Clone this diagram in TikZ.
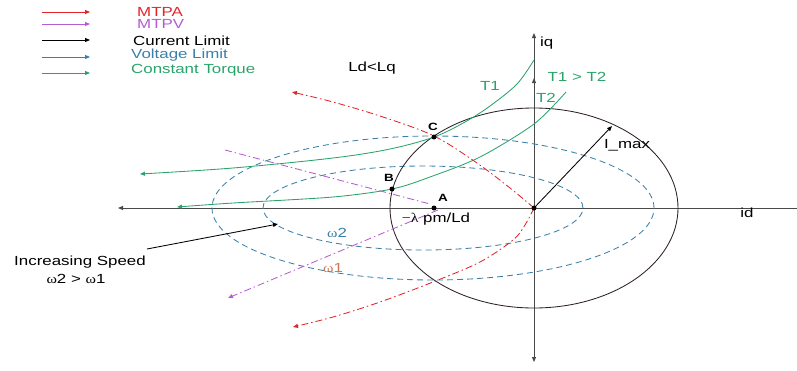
\documentclass[tikz,border=0pt]{standalone}
\usepackage{fontspec}
\setmainfont{Liberation Sans}[FakeStretch=1.28]
\newfontfamily\grk{Liberation Serif}[FakeStretch=1.2]
\usetikzlibrary{arrows.meta}
\definecolor{mtpa}{HTML}{E0262B}
\definecolor{mtpv}{HTML}{B45CD0}
\definecolor{volt}{HTML}{3A80A8}
\definecolor{torq}{HTML}{2AA36A}
\definecolor{curl}{HTML}{2E2228}
\definecolor{axisc}{HTML}{4A4A4A}
\definecolor{omone}{HTML}{C87A5A}
\begin{document}
\begin{tikzpicture}[x=1pt,y=-1pt,font=\fontsize{13.2}{15}\selectfont,
  tip/.style={-{Triangle[length=5pt,width=4pt]}},
  lbl/.style={inner sep=0pt},
  ptlbl/.style={inner sep=0pt,font=\fontsize{10.5}{12}\selectfont\bfseries},
  dashdot/.style={dash pattern=on 7pt off 3pt on 1.5pt off 3pt},
  vdash/.style={volt,dash pattern=on 6pt off 4pt,line width=0.85pt},
  dot/.style={circle,fill=black,inner sep=0pt,minimum size=5pt},
  thinline/.style={line width=0.85pt}]
\useasboundingbox (0,0) rectangle (797,370);

% legend
\foreach \yy/\cc/\nn in {12/mtpa/a,24/mtpv/b,40/black/c,57/volt/d,73/torq/e}{
  \coordinate (ls\nn) at (42,\yy);
  \coordinate (le\nn) at (90,\yy);
  \draw[\cc,thinline,tip] (ls\nn) -- (le\nn);
}
\node[lbl,anchor=west,text=mtpa] (tA) at (137,12) {MTPA};
\node[lbl,anchor=west,text=mtpv] (tB) at (137,24) {MTPV};
\node[lbl,anchor=west,text=black] (tC) at (133,41) {Current Limit};
\node[lbl,anchor=west,text=volt] (tD) at (131,55) {Voltage Limit};
\node[lbl,anchor=west,text=torq] (tE) at (131,70) {Constant Torque};

% axes
\coordinate (xr) at (797,208);
\coordinate (xl) at (118,208);
\coordinate (yt) at (534,33);
\coordinate (yb) at (534,362);
\coordinate (ym1) at (534,86);
\coordinate (ym2) at (534,78);
\draw[axisc,thinline,tip] (xr) -- (xl);
\draw[axisc,thinline,{Triangle[length=5pt,width=4pt]}-{Triangle[length=5pt,width=4pt]}] (yt) -- (yb);
\draw[axisc,thinline,tip] (ym1) -- (ym2);

% voltage limit ellipses
\draw[vdash] (433,208) ellipse [x radius=221pt, y radius=72pt];
\draw[vdash] (423,208) ellipse [x radius=160pt, y radius=42pt];

% current limit circle
\draw[curl,thinline] (534,208) ellipse [x radius=144pt, y radius=100pt];

% constant torque curves
\draw[torq,thinline,tip] plot[smooth,tension=0.55] coordinates
  {(534,60) (517,84) (490,106) (465,122) (434,137) (390,149) (333,158) (233,168) (140,174)};
\draw[torq,thinline,tip] plot[smooth,tension=0.5] coordinates
  {(566,92) (534,124) (480,157) (430,177) (392,189) (333,197) (233,203) (177,207)};

% MTPA
\draw[mtpa,thinline,dashdot,tip] plot[smooth,tension=0.55] coordinates
  {(534,208) (510,188) (477,163) (434,136) (383,117) (333,102) (292,92)};
\draw[mtpa,thinline,dashdot,tip] plot[smooth,tension=0.55] coordinates
  {(534,208) (525,225) (513,240) (480,262) (433,282) (380,302) (333,317) (293,327)};

% MTPV
\coordinate (pv1) at (225,150);
\coordinate (pv2) at (430,204);
\coordinate (pv3) at (438,210);
\coordinate (pv4) at (228,298);
\draw[mtpv,thinline,dashdot] (pv1) -- (pv2);
\draw[mtpv,thinline,dashdot,tip] (pv3) -- (pv4);

% I_max
\coordinate (im) at (612,126);
\draw[black,thinline,tip] (534,208) -- (im);

% points
\node[dot] (O) at (534,208) {};
\node[dot] (A) at (434,208) {};
\node[dot] (B) at (392,189) {};
\node[dot] (C) at (434,137) {};
\node[ptlbl] (lA) at (443,198) {A};
\node[ptlbl] (lB) at (389,178) {B};
\node[ptlbl] (lC) at (433,127) {C};

% labels
\node[lbl] (lam) at (436,219) {{\grk −λ} pm/Ld};
\node[lbl] (ld) at (372,68) {Ld<Lq};
\node[lbl,anchor=west] (iq) at (540,43) {iq};
\node[lbl] (id) at (747,213) {id};
\node[lbl] (imx) at (627,145) {I\_max};
\node[lbl,text=torq] (T1) at (490,86) {T1};
\node[lbl,text=torq] (T12) at (577,77) {T1 > T2};
\node[lbl,text=torq] (T2) at (546,98) {T2};
\node[lbl,text=volt] (w2) at (337,233) {{\grk ω}2};
\node[lbl,text=omone] (w1) at (333,268) {{\grk ω}1};

% increasing speed
\node[lbl] (inc) at (80,262) {Increasing Speed};
\node[lbl] (inc2) at (76,279) {{\grk ω}2 > {\grk ω}1};
\coordinate (ia) at (147,249);
\coordinate (ib) at (278,224);
\draw[black,thinline,tip] (ia) -- (ib);
\end{tikzpicture}
\end{document}
